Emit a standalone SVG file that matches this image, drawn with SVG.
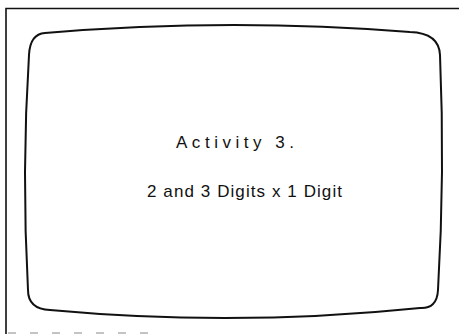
<svg xmlns="http://www.w3.org/2000/svg" width="459" height="334" viewBox="0 0 459 334">
<style>
.frame{fill:none;stroke:#111;stroke-width:1.6}
.screen{fill:none;stroke:#111;stroke-width:2}
.t{font-family:"Liberation Sans",Arial,sans-serif;font-size:17px;fill:#111}
</style>
<rect width="459" height="334" fill="#fff"/>
<g id="frame">
<path class="frame" d="M6,334 V8.5 H459"/>
<path d="M8,333 H150" stroke="#888" stroke-width="1" stroke-dasharray="8 14"/>
</g>
<g id="screen">
<path class="screen" d="M29,55 Q30,34 45,33 Q228.5,17.5 410,32 Q439,33 440,55 Q445,171.5 438,290 Q437,309 420,308 Q235,327 50,310 Q28,309 28,290 Q21.5,171.5 29,55 Z"/>
</g>
<g id="title">
<text class="t" x="176" y="148" textLength="118" lengthAdjust="spacing">Activity 3.</text>
<text class="t" x="147" y="197" textLength="195" lengthAdjust="spacing">2 and 3 Digits x 1 Digit</text>
</g>
</svg>
